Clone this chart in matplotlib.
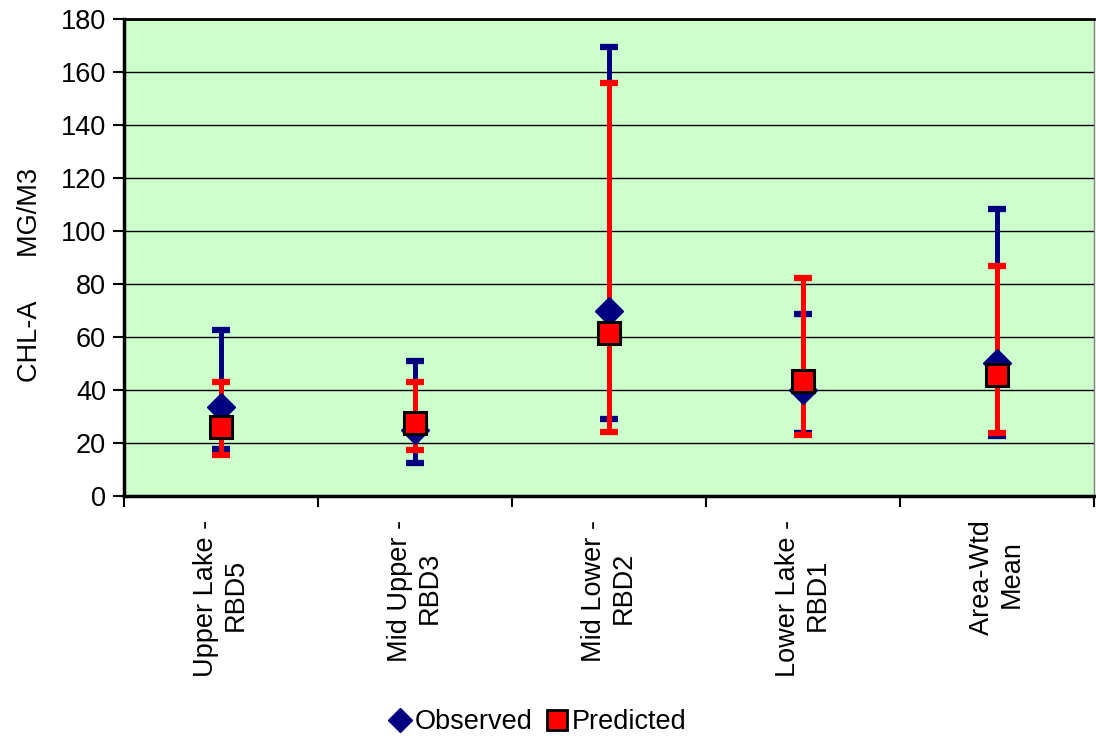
import matplotlib
matplotlib.use("Agg")
import matplotlib.pyplot as plt
from matplotlib.lines import Line2D
import numpy as np

plt.rcParams['font.family'] = ['Liberation Sans', 'DejaVu Sans']

categories = ["Upper Lake - \nRBD5", "Mid Upper - \nRBD3", "Mid Lower - \nRBD2",
              "Lower Lake - \nRBD1", "Area-Wtd \nMean"]

obs_mean = [33.7, 25.0, 69.9, 40.0, 50.2]
obs_low = [17.8, 12.3, 28.9, 23.9, 22.6]
obs_high = [62.6, 51.0, 169.5, 68.7, 108.2]

pred_mean = [26.1, 27.4, 61.6, 43.5, 45.7]
pred_low = [15.6, 17.4, 24.3, 23.0, 23.7]
pred_high = [43.0, 43.1, 155.7, 82.1, 86.9]

y_ticks = [0, 20, 40, 60, 80, 100, 120, 140, 160, 180]

navy = "#000080"
red = "#FF0000"
FS = 19.5

fig = plt.figure(figsize=(10.96, 7.38), dpi=100)
ax = fig.add_axes([124 / 1096, 1 - 496 / 738, 970 / 1096, 477 / 738])
ax.set_facecolor("#CCFFCC")

x = np.arange(len(categories))

om = np.array(obs_mean)
pm = np.array(pred_mean)
obs_err = [om - np.array(obs_low), np.array(obs_high) - om]
pred_err = [pm - np.array(pred_low), np.array(pred_high) - pm]

ax.errorbar(x, om, yerr=obs_err, fmt="none", ecolor=navy, elinewidth=3.6,
            capsize=6.5, capthick=4.5, zorder=3)
ax.errorbar(x, pm, yerr=pred_err, fmt="none", ecolor=red, elinewidth=3.6,
            capsize=6.5, capthick=4.5, zorder=4)
for l in ax.lines:
    l.set_solid_capstyle("round")

ax.plot(x, om, linestyle="none", marker="D", markersize=14, color=navy,
        markeredgecolor=navy, zorder=5)
ax.plot(x, pm, linestyle="none", marker="s", markersize=15.5, color=red,
        markeredgecolor="black", markeredgewidth=2.2, zorder=6)

ax.set_xlim(-0.5, len(categories) - 0.5)
ax.set_ylim(0, 180)
ax.set_yticks(y_ticks)
ax.set_yticklabels([str(v) for v in y_ticks], fontsize=FS)
ax.yaxis.grid(True, color="black", linewidth=1.0)
ax.set_axisbelow(True)

# Category boundaries get tick marks; labels sit at category centres
ax.set_xticks(np.arange(-0.5, len(categories), 1.0))
ax.set_xticklabels([])
ax.set_xticks(x, minor=True)
ax.set_xticklabels(categories, minor=True, rotation=90, fontsize=FS,
                   ha="center", va="top", multialignment="center")
ax.tick_params(axis="x", which="minor", length=0, pad=12)
ax.tick_params(axis="x", which="major", length=8, width=1.5, direction="out")
ax.tick_params(axis="y", which="major", length=8, width=1.5, direction="out", pad=5)

for side in ["left", "bottom"]:
    ax.spines[side].set_linewidth(2.5)
    ax.spines[side].set_color("black")
ax.spines["top"].set_linewidth(2.0)
ax.spines["top"].set_color("black")
ax.spines["right"].set_linewidth(1.0)
ax.spines["right"].set_color("#808080")

fig.text(30 / 1096, 1 - 275 / 738, "CHL-A      MG/M3", rotation=90,
         ha="center", va="center", fontsize=FS)

handles = [
    Line2D([], [], linestyle="none", marker="D", markersize=12, color=navy,
           markeredgecolor=navy),
    Line2D([], [], linestyle="none", marker="s", markersize=14, color=red,
           markeredgecolor="black", markeredgewidth=2),
]
fig.legend(handles, ["Observed", "Predicted"], loc="center",
           bbox_to_anchor=(538 / 1096, 1 - 722 / 738), ncol=2, frameon=False,
           fontsize=FS, handlelength=0.8, handletextpad=0.15, columnspacing=0.5)

fig.savefig("out.png", dpi=100)
